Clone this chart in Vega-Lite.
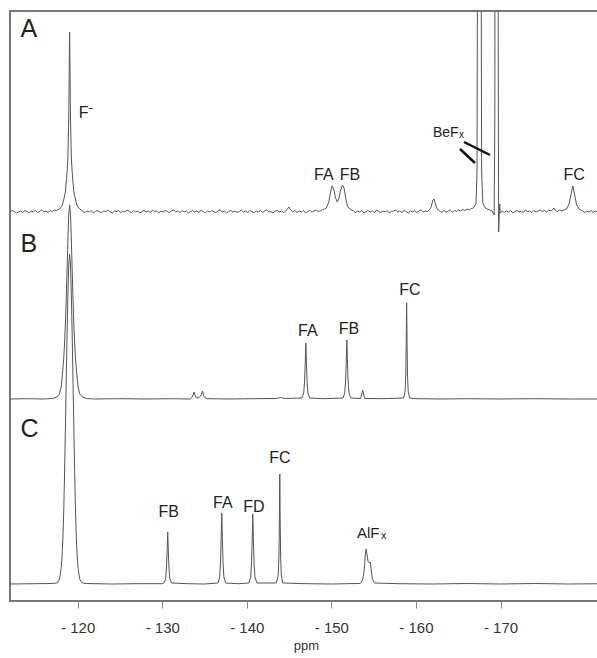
{
"$schema": "https://vega.github.io/schema/vega-lite/v6.json",
"width": 592, "height": 590,
"autosize": {"type": "none"},
"padding": {"left": 10, "top": 11, "right": 0, "bottom": 57},
"background": "white",
"config": {
  "view": {"stroke": "#777", "strokeWidth": 2},
  "font": "Liberation Sans",
  "text": {"font": "Liberation Sans", "color": "#222"}
},
"datasets": {
"A": [
{"ppm":-112,"I":0},{"ppm":-112.25,"I":1.5},{"ppm":-112.5,"I":0.5},{"ppm":-112.75,"I":-1},{"ppm":-113,"I":0},{"ppm":-113.25,"I":1},{"ppm":-113.5,"I":-0.5},{"ppm":-113.75,"I":1.5},{"ppm":-114,"I":0.5},{"ppm":-114.25,"I":-1},{"ppm":-114.5,"I":1},{"ppm":-114.75,"I":0},{"ppm":-115,"I":1.5},{"ppm":-115.25,"I":-0.5},{"ppm":-115.5,"I":0.5},{"ppm":-115.75,"I":2},{"ppm":-116,"I":0},{"ppm":-116.25,"I":1},{"ppm":-116.5,"I":-0.5},{"ppm":-116.75,"I":1.5},{"ppm":-117,"I":0.5},{"ppm":-117.25,"I":2},{"ppm":-117.5,"I":1.5},
{"ppm":-117.85,"I":3},{"ppm":-118.15,"I":6},{"ppm":-118.35,"I":12},{"ppm":-118.55,"I":20},{"ppm":-118.75,"I":40},{"ppm":-118.85,"I":55},{"ppm":-118.95,"I":95},{"ppm":-119,"I":140},{"ppm":-119.05,"I":180},{"ppm":-119.1,"I":140},{"ppm":-119.15,"I":95},{"ppm":-119.25,"I":55},{"ppm":-119.35,"I":40},{"ppm":-119.55,"I":20},{"ppm":-119.75,"I":12},{"ppm":-119.95,"I":6},{"ppm":-120.25,"I":3},{"ppm":-120.6,"I":1},
{"ppm":-120.85,"I":-0.5},{"ppm":-121.1,"I":1},{"ppm":-121.35,"I":0},{"ppm":-121.6,"I":1.5},{"ppm":-121.85,"I":-1},{"ppm":-122.1,"I":0.5},{"ppm":-122.35,"I":1.5},{"ppm":-122.6,"I":0},{"ppm":-122.85,"I":-0.5},{"ppm":-123.1,"I":1},{"ppm":-123.35,"I":0.5},{"ppm":-123.6,"I":2},{"ppm":-123.85,"I":0},{"ppm":-124.1,"I":-1},{"ppm":-124.35,"I":1},{"ppm":-124.6,"I":0.5},{"ppm":-124.85,"I":1.5},{"ppm":-125.1,"I":-0.5},{"ppm":-125.35,"I":1},{"ppm":-125.6,"I":0},{"ppm":-125.85,"I":2},{"ppm":-126.1,"I":0.5},{"ppm":-126.35,"I":-0.5},{"ppm":-126.6,"I":1.5},{"ppm":-126.85,"I":0},{"ppm":-127.1,"I":1},{"ppm":-127.35,"I":-1},{"ppm":-127.6,"I":0.5},{"ppm":-127.85,"I":1.5},{"ppm":-128.1,"I":0},{"ppm":-128.35,"I":1},{"ppm":-128.6,"I":-0.5},{"ppm":-128.85,"I":2},{"ppm":-129.1,"I":0.5},{"ppm":-129.35,"I":1},{"ppm":-129.6,"I":-1},{"ppm":-129.85,"I":1},{"ppm":-130.1,"I":0},{"ppm":-130.35,"I":1.5},{"ppm":-130.6,"I":0.5},{"ppm":-130.85,"I":-0.5},{"ppm":-131.1,"I":1},{"ppm":-131.35,"I":2},{"ppm":-131.6,"I":0},{"ppm":-131.85,"I":1},{"ppm":-132.1,"I":-0.5},{"ppm":-132.35,"I":1.5},{"ppm":-132.6,"I":0},{"ppm":-132.85,"I":1},{"ppm":-133.1,"I":-1},{"ppm":-133.35,"I":0.5},{"ppm":-133.6,"I":1.5},{"ppm":-133.85,"I":0},{"ppm":-134.1,"I":1},{"ppm":-134.35,"I":-0.5},{"ppm":-134.6,"I":2},{"ppm":-134.85,"I":0.5},{"ppm":-135.1,"I":-1},{"ppm":-135.35,"I":1},{"ppm":-135.6,"I":0},{"ppm":-135.85,"I":1.5},{"ppm":-136.1,"I":0.5},{"ppm":-136.35,"I":-0.5},{"ppm":-136.6,"I":1},{"ppm":-136.85,"I":2},{"ppm":-137.1,"I":0},{"ppm":-137.35,"I":1},{"ppm":-137.6,"I":-1},{"ppm":-137.85,"I":0.5},{"ppm":-138.1,"I":1.5},{"ppm":-138.35,"I":0},{"ppm":-138.6,"I":1},{"ppm":-138.85,"I":-0.5},{"ppm":-139.1,"I":0.5},{"ppm":-139.35,"I":2},{"ppm":-139.6,"I":0},{"ppm":-139.85,"I":1},{"ppm":-140.1,"I":-0.5},{"ppm":-140.35,"I":1.5},{"ppm":-140.6,"I":0.5},{"ppm":-140.85,"I":-1},{"ppm":-141.1,"I":1},{"ppm":-141.35,"I":0},{"ppm":-141.6,"I":1.5},{"ppm":-141.85,"I":-0.5},{"ppm":-142.1,"I":1},{"ppm":-142.35,"I":2},{"ppm":-142.6,"I":0},{"ppm":-142.85,"I":0.5},{"ppm":-143.1,"I":-1},{"ppm":-143.35,"I":1},{"ppm":-143.6,"I":1.5},{"ppm":-143.85,"I":0},{"ppm":-144.1,"I":1},{"ppm":-144.35,"I":-0.5},{"ppm":-144.6,"I":1},{"ppm":-144.8,"I":3},{"ppm":-145,"I":5},{"ppm":-145.2,"I":2},{"ppm":-145.45,"I":0},{"ppm":-145.7,"I":1.5},{"ppm":-145.95,"I":-0.5},{"ppm":-146.2,"I":1},{"ppm":-146.45,"I":0},{"ppm":-146.7,"I":1.5},{"ppm":-146.95,"I":-1},{"ppm":-147.2,"I":0.5},{"ppm":-147.45,"I":1.5},{"ppm":-147.7,"I":0},{"ppm":-147.95,"I":1},{"ppm":-148.2,"I":2},{"ppm":-148.45,"I":0.5},{"ppm":-148.7,"I":1},{"ppm":-148.95,"I":2.5},{"ppm":-149.2,"I":3},
{"ppm":-149.4,"I":4},{"ppm":-149.7,"I":10},{"ppm":-149.9,"I":20},{"ppm":-150.1,"I":26},{"ppm":-150.3,"I":22},{"ppm":-150.5,"I":14},{"ppm":-150.7,"I":10},{"ppm":-150.9,"I":14},{"ppm":-151.1,"I":22},{"ppm":-151.3,"I":27},{"ppm":-151.5,"I":24},{"ppm":-151.7,"I":14},{"ppm":-151.9,"I":6},{"ppm":-152.2,"I":3},{"ppm":-152.6,"I":1},
{"ppm":-152.85,"I":-0.5},{"ppm":-153.1,"I":1},{"ppm":-153.35,"I":0},{"ppm":-153.6,"I":1.5},{"ppm":-153.85,"I":-1},{"ppm":-154.1,"I":0.5},{"ppm":-154.35,"I":1.5},{"ppm":-154.6,"I":0},{"ppm":-154.85,"I":1},{"ppm":-155.1,"I":-0.5},{"ppm":-155.35,"I":2},{"ppm":-155.6,"I":0.5},{"ppm":-155.85,"I":-0.5},{"ppm":-156.1,"I":1},{"ppm":-156.35,"I":0},{"ppm":-156.6,"I":1.5},{"ppm":-156.85,"I":-1},{"ppm":-157.1,"I":0.5},{"ppm":-157.35,"I":1},{"ppm":-157.6,"I":2},{"ppm":-157.85,"I":0},{"ppm":-158.1,"I":1},{"ppm":-158.35,"I":-0.5},{"ppm":-158.6,"I":1.5},{"ppm":-158.85,"I":0.5},{"ppm":-159.1,"I":-1},{"ppm":-159.35,"I":1},{"ppm":-159.6,"I":0},{"ppm":-159.85,"I":1.5},{"ppm":-160.1,"I":-0.5},{"ppm":-160.35,"I":1},{"ppm":-160.6,"I":2},{"ppm":-160.85,"I":0},{"ppm":-161.1,"I":1},{"ppm":-161.35,"I":0.5},{"ppm":-161.6,"I":2.5},
{"ppm":-161.8,"I":5},{"ppm":-162,"I":12},{"ppm":-162.15,"I":13},{"ppm":-162.3,"I":8},{"ppm":-162.5,"I":3},{"ppm":-162.8,"I":1},
{"ppm":-163.05,"I":-0.5},{"ppm":-163.3,"I":1.5},{"ppm":-163.55,"I":0},{"ppm":-163.8,"I":1},{"ppm":-164.05,"I":2},{"ppm":-164.3,"I":0},{"ppm":-164.55,"I":1.5},{"ppm":-164.8,"I":0.5},{"ppm":-165.05,"I":2},{"ppm":-165.3,"I":1},{"ppm":-165.55,"I":2.5},{"ppm":-165.8,"I":1.5},{"ppm":-166.05,"I":3},{"ppm":-166.3,"I":2},{"ppm":-166.55,"I":3.5},{"ppm":-166.8,"I":4},{"ppm":-166.95,"I":6},
{"ppm":-167.1,"I":8},{"ppm":-167.22,"I":40},{"ppm":-167.32,"I":400},{"ppm":-167.5,"I":3000},{"ppm":-167.67,"I":400},{"ppm":-167.77,"I":40},{"ppm":-167.9,"I":10},{"ppm":-168.1,"I":5},{"ppm":-168.4,"I":3},{"ppm":-168.7,"I":2},{"ppm":-169,"I":1},
{"ppm":-169.25,"I":-3},{"ppm":-169.33,"I":100},{"ppm":-169.45,"I":3000},{"ppm":-169.7,"I":300},{"ppm":-169.78,"I":-20},{"ppm":-169.85,"I":-4},{"ppm":-169.9,"I":8},{"ppm":-169.95,"I":-1},
{"ppm":-170.2,"I":1},{"ppm":-170.45,"I":-0.5},{"ppm":-170.7,"I":1},{"ppm":-170.95,"I":0},{"ppm":-171.2,"I":1.5},{"ppm":-171.45,"I":-1},{"ppm":-171.7,"I":0.5},{"ppm":-171.95,"I":1.5},{"ppm":-172.2,"I":0},{"ppm":-172.45,"I":1},{"ppm":-172.7,"I":-0.5},{"ppm":-172.95,"I":2},{"ppm":-173.2,"I":0.5},{"ppm":-173.45,"I":1},{"ppm":-173.7,"I":-0.5},{"ppm":-173.95,"I":1.5},{"ppm":-174.2,"I":0},{"ppm":-174.45,"I":1},{"ppm":-174.7,"I":2},{"ppm":-174.95,"I":0.5},{"ppm":-175.2,"I":1.5},{"ppm":-175.45,"I":0},{"ppm":-175.7,"I":2},{"ppm":-175.95,"I":1},{"ppm":-176.15,"I":2},{"ppm":-176.3,"I":4},{"ppm":-176.5,"I":1.5},{"ppm":-176.75,"I":0.5},{"ppm":-177,"I":2},{"ppm":-177.25,"I":1},{"ppm":-177.5,"I":2},
{"ppm":-177.8,"I":3},{"ppm":-178.1,"I":8},{"ppm":-178.35,"I":18},{"ppm":-178.55,"I":26},{"ppm":-178.75,"I":18},{"ppm":-179,"I":7},{"ppm":-179.3,"I":3},{"ppm":-179.7,"I":1},
{"ppm":-179.95,"I":-0.5},{"ppm":-180.2,"I":1},{"ppm":-180.45,"I":0},{"ppm":-180.7,"I":1.5},{"ppm":-180.95,"I":-0.5},{"ppm":-181.2,"I":1},{"ppm":-181.45,"I":0},{"ppm":-181.7,"I":1.5},{"ppm":-182,"I":0}
],
"B": [
{"ppm":-112,"I":0},{"ppm":-114,"I":0.3},{"ppm":-116,"I":0},{"ppm":-117.05,"I":0.5},{"ppm":-117.55,"I":2},{"ppm":-117.85,"I":5},{"ppm":-118.05,"I":12},{"ppm":-118.15,"I":20},{"ppm":-118.25,"I":30},{"ppm":-118.35,"I":40},{"ppm":-118.45,"I":55},{"ppm":-118.55,"I":75},{"ppm":-118.65,"I":100},{"ppm":-118.75,"I":130},{"ppm":-118.85,"I":160},{"ppm":-118.95,"I":185},{"ppm":-119.05,"I":194},{"ppm":-119.15,"I":185},{"ppm":-119.25,"I":160},{"ppm":-119.35,"I":130},{"ppm":-119.45,"I":100},{"ppm":-119.55,"I":75},{"ppm":-119.65,"I":55},{"ppm":-119.75,"I":40},{"ppm":-119.85,"I":30},{"ppm":-119.95,"I":20},{"ppm":-120.05,"I":12},{"ppm":-120.25,"I":5},{"ppm":-120.55,"I":2},{"ppm":-121.05,"I":0.5},
{"ppm":-122,"I":0},{"ppm":-125,"I":0.3},{"ppm":-128,"I":0},{"ppm":-131,"I":0.3},{"ppm":-133.3,"I":0},{"ppm":-133.55,"I":2},{"ppm":-133.77,"I":7},{"ppm":-133.95,"I":2},{"ppm":-134.25,"I":1},{"ppm":-134.55,"I":3},{"ppm":-134.76,"I":8},{"ppm":-134.95,"I":2},{"ppm":-135.3,"I":0.3},{"ppm":-138,"I":0},{"ppm":-141,"I":0.3},{"ppm":-143.5,"I":0.5},{"ppm":-144,"I":1.5},{"ppm":-144.5,"I":0.5},{"ppm":-146.5,"I":1},
{"ppm":-146.73,"I":6},{"ppm":-146.83,"I":17},{"ppm":-146.9,"I":34},{"ppm":-146.98,"I":56},{"ppm":-147.06,"I":34},{"ppm":-147.13,"I":17},{"ppm":-147.23,"I":6},{"ppm":-147.45,"I":1},
{"ppm":-149,"I":0.3},{"ppm":-151.38,"I":1},{"ppm":-151.58,"I":6},{"ppm":-151.68,"I":18},{"ppm":-151.75,"I":35},{"ppm":-151.83,"I":59},{"ppm":-151.91,"I":35},{"ppm":-151.98,"I":18},{"ppm":-152.08,"I":6},{"ppm":-152.3,"I":1},
{"ppm":-153.45,"I":0.5},{"ppm":-153.58,"I":4},{"ppm":-153.7,"I":9},{"ppm":-153.82,"I":4},{"ppm":-153.95,"I":0.5},{"ppm":-156,"I":0.3},
{"ppm":-158.55,"I":1},{"ppm":-158.72,"I":8},{"ppm":-158.8,"I":25},{"ppm":-158.85,"I":55},{"ppm":-158.9,"I":96},{"ppm":-158.95,"I":55},{"ppm":-159,"I":25},{"ppm":-159.08,"I":8},{"ppm":-159.25,"I":1},
{"ppm":-160,"I":0.3},{"ppm":-163,"I":0},{"ppm":-166,"I":0.3},{"ppm":-170,"I":0},{"ppm":-174,"I":0.3},{"ppm":-178,"I":0},{"ppm":-182,"I":0}
],
"C": [
{"ppm":-112,"I":0},{"ppm":-115,"I":0.3},{"ppm":-117,"I":0.5},{"ppm":-117.55,"I":1},{"ppm":-117.75,"I":3},{"ppm":-117.85,"I":5},{"ppm":-117.95,"I":10},{"ppm":-118.05,"I":16},{"ppm":-118.15,"I":27},{"ppm":-118.25,"I":45},{"ppm":-118.35,"I":71},{"ppm":-118.45,"I":110},{"ppm":-118.55,"I":155},{"ppm":-118.65,"I":204},{"ppm":-118.75,"I":250},{"ppm":-118.85,"I":290},{"ppm":-118.95,"I":320},{"ppm":-119.05,"I":330},{"ppm":-119.15,"I":320},{"ppm":-119.25,"I":290},{"ppm":-119.35,"I":250},{"ppm":-119.45,"I":204},{"ppm":-119.55,"I":155},{"ppm":-119.65,"I":110},{"ppm":-119.75,"I":71},{"ppm":-119.85,"I":45},{"ppm":-119.95,"I":27},{"ppm":-120.05,"I":16},{"ppm":-120.15,"I":10},{"ppm":-120.25,"I":5},{"ppm":-120.35,"I":3},{"ppm":-120.55,"I":1},{"ppm":-121,"I":0.5},
{"ppm":-124,"I":0},{"ppm":-127,"I":0.3},{"ppm":-130,"I":0.3},
{"ppm":-130.2,"I":1},{"ppm":-130.4,"I":5},{"ppm":-130.5,"I":16},{"ppm":-130.57,"I":31},{"ppm":-130.65,"I":52},{"ppm":-130.73,"I":31},{"ppm":-130.8,"I":16},{"ppm":-130.9,"I":5},{"ppm":-131.1,"I":1},
{"ppm":-133,"I":0.3},{"ppm":-135,"I":0},{"ppm":-136.6,"I":1},
{"ppm":-136.79,"I":7},{"ppm":-136.89,"I":21},{"ppm":-136.96,"I":43},{"ppm":-137.04,"I":71},{"ppm":-137.12,"I":43},{"ppm":-137.19,"I":21},{"ppm":-137.29,"I":7},{"ppm":-137.5,"I":1},
{"ppm":-139,"I":0.3},{"ppm":-140.25,"I":1},
{"ppm":-140.46,"I":7},{"ppm":-140.56,"I":21},{"ppm":-140.63,"I":42},{"ppm":-140.71,"I":70},{"ppm":-140.79,"I":42},{"ppm":-140.86,"I":21},{"ppm":-140.96,"I":7},{"ppm":-141.2,"I":1},
{"ppm":-143.5,"I":1},{"ppm":-143.72,"I":9},{"ppm":-143.8,"I":28},{"ppm":-143.85,"I":60},{"ppm":-143.9,"I":110},{"ppm":-143.95,"I":60},{"ppm":-144,"I":28},{"ppm":-144.08,"I":9},{"ppm":-144.25,"I":1},
{"ppm":-147,"I":0.3},{"ppm":-150,"I":0},{"ppm":-153,"I":0.5},
{"ppm":-153.4,"I":0.5},{"ppm":-153.7,"I":4},{"ppm":-153.9,"I":15},{"ppm":-154,"I":28},{"ppm":-154.1,"I":35},{"ppm":-154.2,"I":30},{"ppm":-154.35,"I":22},{"ppm":-154.5,"I":21},{"ppm":-154.6,"I":22},{"ppm":-154.7,"I":15},{"ppm":-154.85,"I":5},{"ppm":-155.1,"I":1},
{"ppm":-158,"I":0.3},{"ppm":-162,"I":0},{"ppm":-166,"I":0.5},{"ppm":-170,"I":0},{"ppm":-174,"I":0.5},{"ppm":-178,"I":0},{"ppm":-182,"I":0.3}
],
"annA": [
{"seg":1,"ppm":-165.68,"I":70},{"seg":1,"ppm":-168.76,"I":57},
{"seg":2,"ppm":-165.21,"I":63},{"seg":2,"ppm":-166.98,"I":49}
],
"labA": [
{"kind":"panel","ppm":-113.25,"I":175,"text":"A"},
{"kind":"peak","ppm":-149.11,"I":32,"text":"FA"},
{"kind":"peak","ppm":-152.19,"I":32,"text":"FB"},
{"kind":"peak","ppm":-178.7,"I":32,"text":"FC"},
{"kind":"peak","ppm":-121.0,"I":94,"text":"F⁻"},
{"kind":"formula","ppm":-162.01,"I":75,"text":"BeF"},
{"kind":"sub","ppm":-165.09,"I":74,"text":"x"}
],
"labB": [
{"kind":"panel","ppm":-113.25,"I":147,"text":"B"},
{"kind":"peak","ppm":-147.22,"I":63,"text":"FA"},
{"kind":"peak","ppm":-152.07,"I":65,"text":"FB"},
{"kind":"peak","ppm":-159.29,"I":104,"text":"FC"}
],
"labC": [
{"kind":"panel","ppm":-113.25,"I":147,"text":"C"},
{"kind":"peak","ppm":-130.77,"I":67,"text":"FB"},
{"kind":"peak","ppm":-137.16,"I":76,"text":"FA"},
{"kind":"peak","ppm":-140.83,"I":72,"text":"FD"},
{"kind":"peak","ppm":-143.9,"I":121,"text":"FC"},
{"kind":"formula","ppm":-153.02,"I":46,"text":"AlF"},
{"kind":"sub","ppm":-155.86,"I":45,"text":"x"}
]
},
"encoding": {
  "x": {"field": "ppm", "type": "quantitative",
    "scale": {"domain": [-182, -112], "reverse": true, "nice": false, "zero": false},
    "axis": {"values": [-120, -130, -140, -150, -160, -170], "labelExpr": "'- ' + abs(datum.value)",
      "domain": false, "grid": false, "tickColor": "#888", "tickSize": 7, "tickWidth": 1,
      "labelFont": "Liberation Sans", "labelFontSize": 15, "labelColor": "#333", "labelPadding": 12, "labelDx": -4,
      "title": "ppm", "titleFont": "Liberation Sans", "titleFontSize": 13, "titleFontWeight": "normal", "titleColor": "#333", "titlePadding": 4}}
},
"layer": [
{
  "encoding": {"y": {"field": "I", "type": "quantitative", "scale": {"domain": [-389, 201], "nice": false, "zero": false}, "axis": null}},
  "layer": [
    {"data": {"name": "A"}, "mark": {"type": "line", "color": "#555", "strokeWidth": 1, "clip": true}},
    {"data": {"name": "annA"}, "mark": {"type": "line", "color": "#111", "strokeWidth": 2.5, "clip": true}, "encoding": {"detail": {"field": "seg"}}},
    {"data": {"name": "labA"}, "transform": [{"filter": "datum.kind == 'panel'"}], "mark": {"type": "text", "fontSize": 25, "align": "left", "baseline": "alphabetic"}, "encoding": {"text": {"field": "text"}}},
    {"data": {"name": "labA"}, "transform": [{"filter": "datum.kind == 'peak'"}], "mark": {"type": "text", "fontSize": 16, "align": "center", "baseline": "alphabetic"}, "encoding": {"text": {"field": "text"}}},
    {"data": {"name": "labA"}, "transform": [{"filter": "datum.kind == 'formula'"}], "mark": {"type": "text", "fontSize": 14, "align": "left", "baseline": "alphabetic"}, "encoding": {"text": {"field": "text"}}},
    {"data": {"name": "labA"}, "transform": [{"filter": "datum.kind == 'sub'"}], "mark": {"type": "text", "fontSize": 10, "align": "left", "baseline": "alphabetic"}, "encoding": {"text": {"field": "text"}}}
  ]
},
{
  "encoding": {"y": {"field": "I", "type": "quantitative", "scale": {"domain": [-202, 388], "nice": false, "zero": false}, "axis": null}},
  "layer": [
    {"data": {"name": "B"}, "mark": {"type": "line", "color": "#555", "strokeWidth": 1, "clip": true}},
    {"data": {"name": "labB"}, "transform": [{"filter": "datum.kind == 'panel'"}], "mark": {"type": "text", "fontSize": 25, "align": "left", "baseline": "alphabetic"}, "encoding": {"text": {"field": "text"}}},
    {"data": {"name": "labB"}, "transform": [{"filter": "datum.kind == 'peak'"}], "mark": {"type": "text", "fontSize": 16, "align": "center", "baseline": "alphabetic"}, "encoding": {"text": {"field": "text"}}}
  ]
},
{
  "encoding": {"y": {"field": "I", "type": "quantitative", "scale": {"domain": [-17, 573], "nice": false, "zero": false}, "axis": null}},
  "layer": [
    {"data": {"name": "C"}, "mark": {"type": "line", "color": "#555", "strokeWidth": 1, "clip": true}},
    {"data": {"name": "labC"}, "transform": [{"filter": "datum.kind == 'panel'"}], "mark": {"type": "text", "fontSize": 25, "align": "left", "baseline": "alphabetic"}, "encoding": {"text": {"field": "text"}}},
    {"data": {"name": "labC"}, "transform": [{"filter": "datum.kind == 'peak'"}], "mark": {"type": "text", "fontSize": 16, "align": "center", "baseline": "alphabetic"}, "encoding": {"text": {"field": "text"}}},
    {"data": {"name": "labC"}, "transform": [{"filter": "datum.kind == 'formula'"}], "mark": {"type": "text", "fontSize": 15, "align": "left", "baseline": "alphabetic"}, "encoding": {"text": {"field": "text"}}},
    {"data": {"name": "labC"}, "transform": [{"filter": "datum.kind == 'sub'"}], "mark": {"type": "text", "fontSize": 11, "align": "left", "baseline": "alphabetic"}, "encoding": {"text": {"field": "text"}}}
  ]
}
],
"resolve": {"scale": {"y": "independent"}}
}
